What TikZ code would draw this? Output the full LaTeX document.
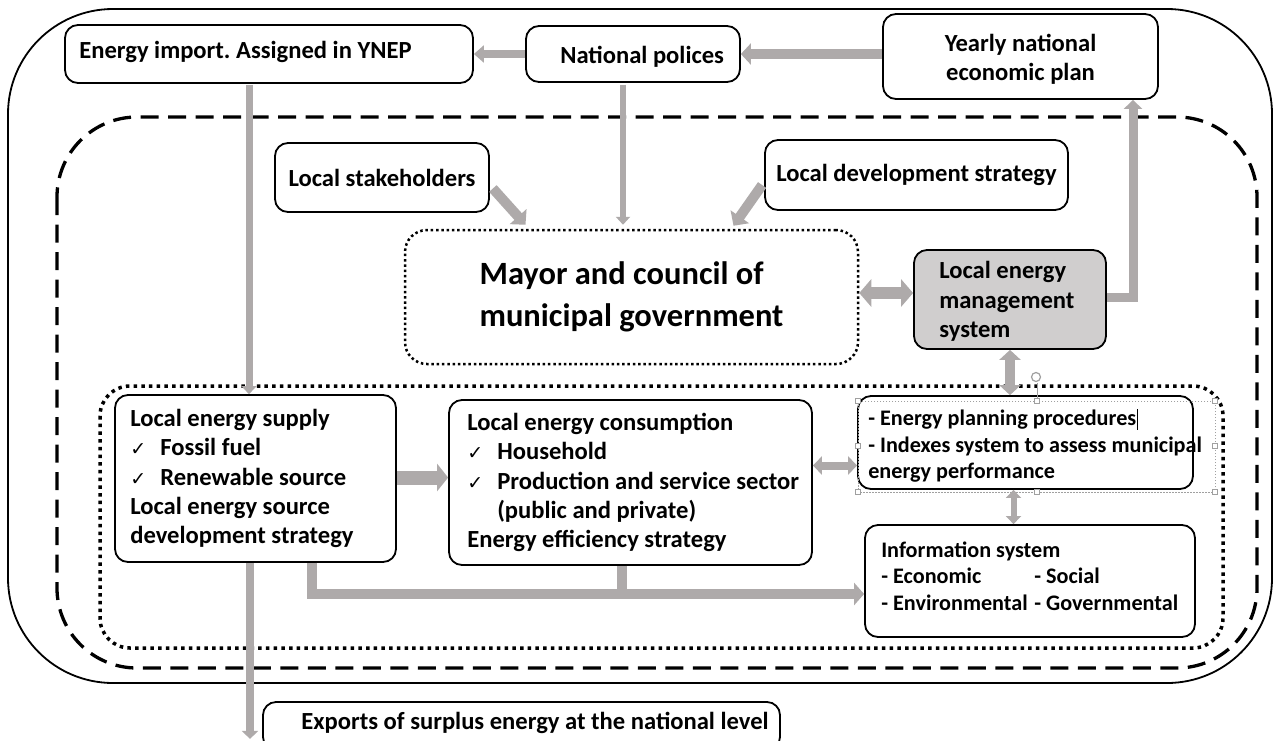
\documentclass[tikz,border=0pt]{standalone}
\usepackage{fontspec}
\setmainfont{Carlito}
\newfontfamily\symfont{DejaVu Sans}
\usetikzlibrary{arrows.meta}
\definecolor{agray}{HTML}{AEAAAA}
\definecolor{lgray}{HTML}{D0CECE}
\definecolor{selgray}{HTML}{A0A0A0}
\newcommand{\ckmk}{\makebox[30pt][l]{\symfont\mdseries\fontsize{19}{19}\selectfont ✓}}
\newcommand{\txtcursor}{\rlap{\hspace{0.5pt}\rule[-4pt]{0.9pt}{21pt}}}
\begin{document}
\begin{tikzpicture}[x=1pt,y=-1pt,
  box/.style={draw, line width=1.8pt, rounded corners=13pt, fill=white,
    font=\bfseries\fontsize{24.6}{29.3}\selectfont\frenchspacing, align=center, inner sep=0pt},
  txt/.style={font=\bfseries\fontsize{24.6}{29.3}\selectfont\frenchspacing, align=left, inner sep=0pt},
  stxt/.style={font=\bfseries\fontsize{22.2}{26.5}\selectfont, align=left, inner sep=0pt},
  mayorbox/.style={draw, line width=2.5pt, dash pattern=on 2.5pt off 2.8pt, rounded corners=22pt,
    font=\bfseries\fontsize{32.5}{42}\selectfont, align=left, inner sep=0pt},
  ga/.style n args={3}{draw=agray, line width=#1, -{Triangle[length=#2,width=#3]}},
  gda/.style n args={3}{draw=agray, line width=#1, {Triangle[length=#2,width=#3]}-{Triangle[length=#2,width=#3]}},
  gline/.style={draw=agray, line width=#1},
  handle/.style={draw=selgray, fill=white, line width=0.6pt, minimum size=5pt, inner sep=0pt}
]
\clip (0,0) rectangle (1274,740);
\fill[white] (0,0) rectangle (1274,740);

% frames
\draw[line width=1.8pt, rounded corners=105pt] (8,9) rectangle (1272,683);
\draw[line width=3.3pt, dash pattern=on 18pt off 9.5pt, rounded corners=80pt] (57,117) rectangle (1257,668);
\draw[line width=3.5pt, dash pattern=on 3.5pt off 4.2pt, rounded corners=30pt] (100,386) rectangle (1223,648);

% top row
\node[box, minimum width=408pt, minimum height=58pt] (imp) at (269,54) {};
\node[txt, anchor=west] (impt) at ([xshift=15pt, yshift=2pt]imp.west) {Energy import. Assigned in YNEP};
\node[box, minimum width=214pt, minimum height=56pt] (nat) at (633,54) {};
\node[txt, anchor=west] (natt) at ([xshift=35pt, yshift=-3pt]nat.west) {National polices};
\node[box, minimum width=275pt, minimum height=85pt] (yr) at (1020.5,56.5) {};
\node[txt, align=center] (yrt) at ([yshift=-3pt]yr.center) {Yearly national\\economic plan};

% second row
\node[box, minimum width=214pt, minimum height=69pt] (stk) at (382,177.5) {Local stakeholders};
\node[box, minimum width=303pt, minimum height=70pt] (dev) at (916.5,175) {Local development strategy};

% mayor and LEMS
\node[mayorbox, minimum width=453pt, minimum height=134pt] (may) at (631.5,297) {Mayor and council of\\municipal government};
\node[box, fill=lgray, minimum width=192pt, minimum height=99pt] (lems) at (1010,299.5) {};
\node[txt, anchor=west] (lemst) at ([xshift=26pt, yshift=-2pt]lems.west) {Local energy\\management\\system};

% bottom row
\node[box, minimum width=281pt, minimum height=167pt] (sup) at (255.5,478.5) {};
\node[txt, anchor=west] (supt) at ([xshift=16pt]sup.west) {Local energy supply\\\ckmk Fossil fuel\\\ckmk Renewable source\\Local energy source\\development strategy};
\node[box, minimum width=363pt, minimum height=165pt] (con) at (630.5,482.5) {};
\node[txt, anchor=west] (cont) at ([xshift=19pt]con.west) {Local energy consumption\\\ckmk Household\\\ckmk Production and service sector\\\hspace*{30pt}(public and private)\\Energy efficiency strategy};
\node[box, minimum width=335pt, minimum height=93pt] (pln) at (1025.5,442.5) {};
\node[stxt, anchor=west] (plnt) at ([xshift=11pt, yshift=-3pt]pln.west) {- Energy planning procedures\txtcursor\\- Indexes system to assess municipal\\energy performance};
\node[box, minimum width=330pt, minimum height=112pt] (inf) at (1030,581) {};
\node[stxt, anchor=west] (inft) at ([xshift=17pt, yshift=5pt]inf.west) {Information system\\\makebox[153pt][l]{- Economic}- Social\\\makebox[153pt][l]{- Environmental}- Governmental};

% exports
\node[box, minimum width=517pt, minimum height=48pt] (exp) at (521.5,726) {};
\node[txt, anchor=west] (expt) at ([xshift=39pt, yshift=3pt]exp.west) {Exports of surplus energy at the national level};

% selection handles around planning text box
\draw[selgray, line width=0.6pt, dash pattern=on 1.5pt off 1.5pt] (858,401) rectangle (1215,492);
\draw[selgray, line width=0.8pt] (1037,401) -- (1037,383);
\draw[selgray, line width=1.2pt] (1036,377) circle (4.5pt);
\foreach \hx/\hy in {858/401,1037/401,1215/401,858/446,1215/446,858/492,1037/492,1215/492}
  \node[handle] at (\hx,\hy) {};

% connectors
\draw[ga={8pt}{10pt}{17pt}] (nat.west) -- (imp.east);
\draw[ga={10pt}{10pt}{21pt}] (yr.west |- nat.east) -- (nat.east);
\draw[ga={7pt}{8pt}{15pt}] ([xshift=-20pt, yshift=-1pt]imp.south) -- ([xshift=-20pt]imp.south |- sup.north);
\draw[ga={6pt}{8pt}{14pt}] ([xshift=-10pt, yshift=-2pt]nat.south) -- ([xshift=-10pt, yshift=4pt]nat.south |- may.north);
\draw[ga={10pt}{11pt}{22pt}] ([yshift=-11pt, xshift=3pt]stk.east) -- ([xshift=-106pt, yshift=4pt]may.north);
\draw[ga={10pt}{11pt}{22pt}] ([yshift=-10pt, xshift=-2pt]dev.west) -- ([xshift=102pt, yshift=3pt]may.north);
\draw[gda={12pt}{12pt}{27pt}] ([yshift=4pt]may.east) -- ([yshift=4pt]may.east -| lems.west);
\draw[ga={9pt}{9pt}{18pt}, line join=miter] ([yshift=2pt]lems.east) -| ([xshift=112.5pt]yr.south);
\draw[gda={10pt}{10pt}{21pt}] (lems.south) -- (lems.south |- pln.north);
\draw[gda={8pt}{9pt}{18pt}] ([yshift=17pt]con.east) -- ([yshift=17pt]con.east -| pln.west);
\draw[gda={6pt}{8pt}{15pt}] ([xshift=-12pt]pln.south) -- ([xshift=-12pt]pln.south |- inf.north);
\draw[ga={14pt}{11pt}{27pt}] ([yshift=1pt]sup.east) -- ([yshift=1pt]sup.east -| con.west);
\draw[ga={10pt}{10pt}{22pt}, line join=miter] ([xshift=56.5pt]sup.south) |- ([yshift=-13pt]inf.west);
\draw[gline=10pt] ([xshift=-8.5pt]con.south) -- ([xshift=-8.5pt, yshift=-28pt]con.south);
\draw[ga={8pt}{8pt}{16pt}] ([xshift=-5.5pt]sup.south) -- ([xshift=-5.5pt, yshift=12pt]sup.south |- exp.south);
\end{tikzpicture}
\end{document}
